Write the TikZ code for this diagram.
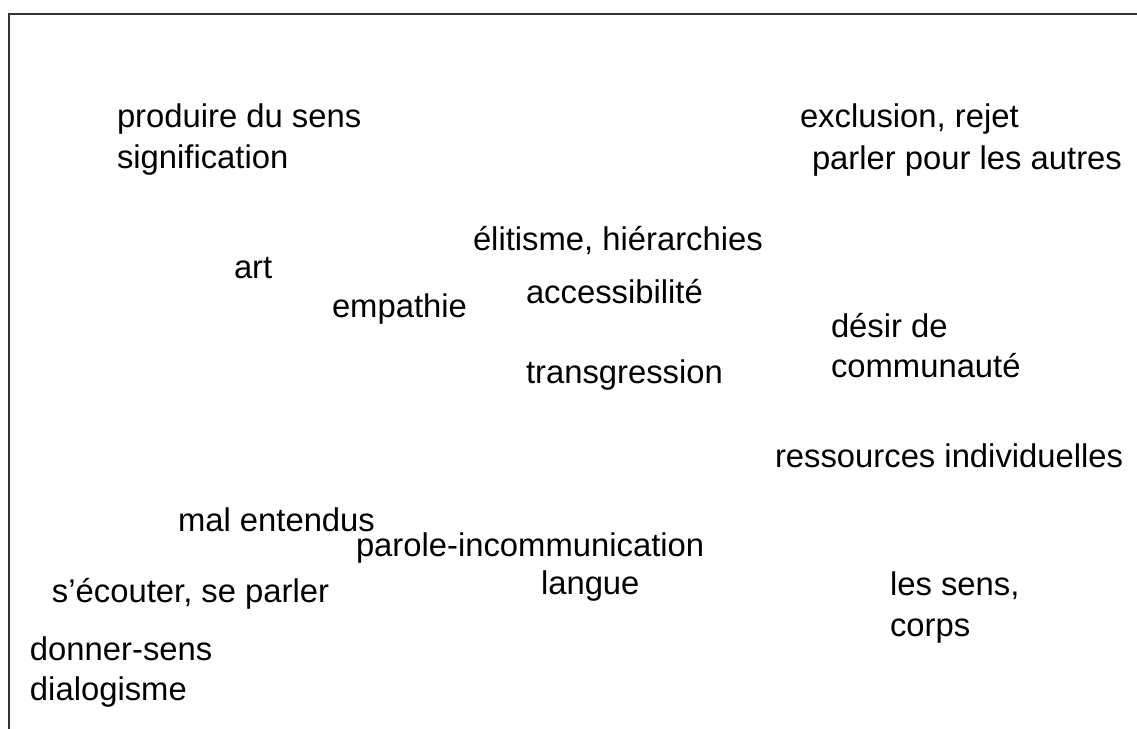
\documentclass[tikz,border=0pt]{standalone}
\usepackage{fontspec}
\setmainfont{Liberation Sans}
\usetikzlibrary{positioning}
\definecolor{framegray}{gray}{0.2}

\tikzset{
  word/.style={anchor=base west, inner sep=0pt, outer sep=0pt,
    font=\fontsize{16.4}{20}\selectfont},
  frameline/.style={draw=framegray, line width=1pt}
}

\begin{document}
\begin{tikzpicture}[x=0.5pt, y=-0.5pt]
          \useasboundingbox (0,0) rectangle (1137,729);

          % frame, only top and left edges show
          \coordinate (fb) at (8.5,729);
          \coordinate (fc) at (8.5,13.5);
          \coordinate (fr) at (1137,13.5);
          \draw[frameline] (fb) -- (fc) -- (fr);

          % upper left
          \node[word] (prod) at (117,127) {produire du sens};
          \node[word] (sign) at (117,168) {signification};

          % upper right
          \node[word] (excl) at (800,127) {exclusion, rejet};
          \node[word] (parl) at (812,169) {parler pour les autres};

          % middle
          \node[word] (elit) at (473,250) {élitisme, hiérarchies};
          \node[word] (art)  at (234,278) {art};
          \node[word] (empa) at (332,317) {empathie};
          \node[word] (acce) at (526,303) {accessibilité};
          \node[word] (tran) at (526,383) {transgression};
          \node[word] (desi) at (831,337) {désir de};
          \node[word] (comm) at (831,377) {communauté};
          \node[word] (ress) at (775,467) {ressources individuelles};

          % lower part
          \node[word] (malE) at (178,531) {mal entendus};
          \node[word] (paro) at (356,556) {parole-incommunication};
          \node[word] (ecou) at (52,602)  {s’écouter, se parler};
          \node[word] (lang) at (541,594) {langue};
          \node[word] (lesS) at (890,595) {les sens,};
          \node[word] (corp) at (890,636) {corps};
          \node[word] (donn) at (30,660)  {donner-sens};
          \node[word] (dial) at (30,700)  {dialogisme};
\end{tikzpicture}
\end{document}
